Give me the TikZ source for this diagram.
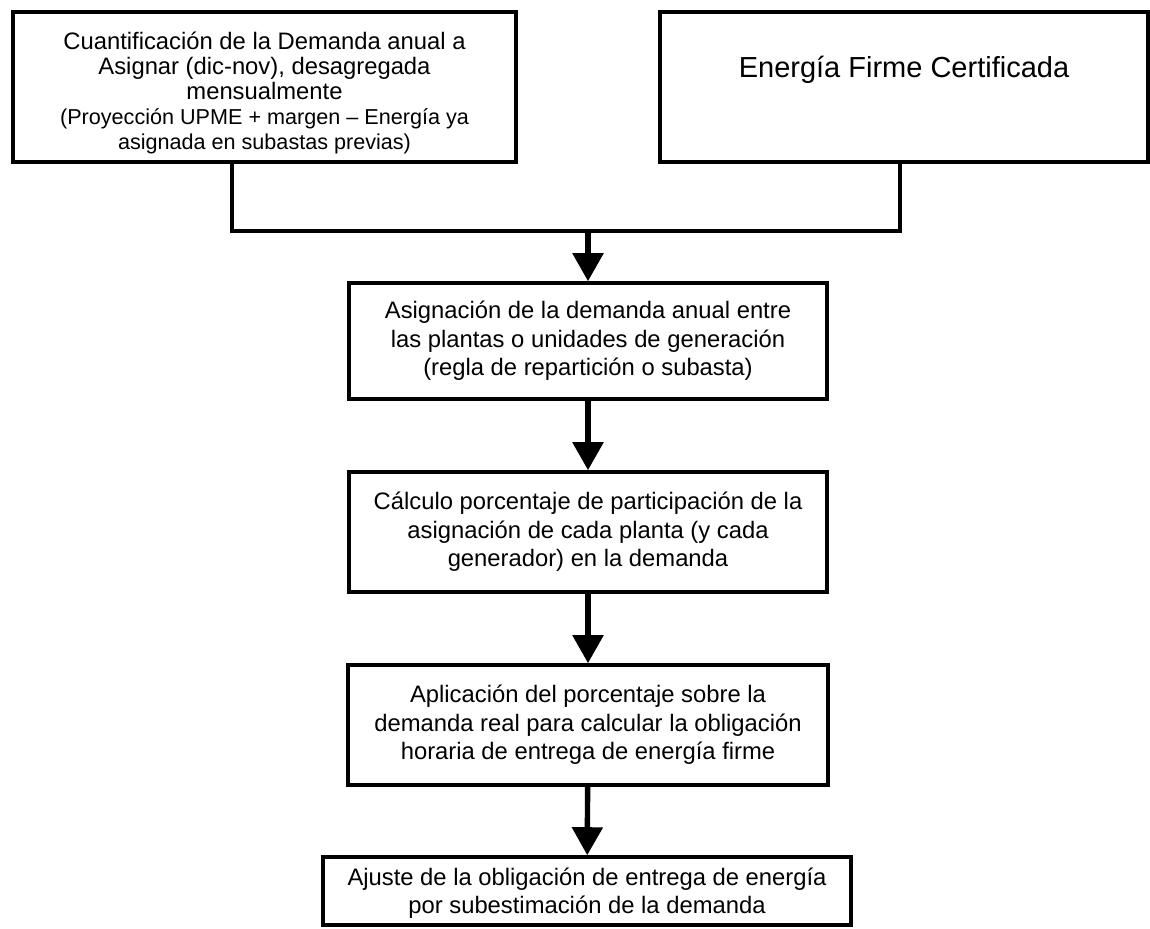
\documentclass[tikz,border=0pt]{standalone}
\usepackage{fontspec}
\setmainfont{Liberation Sans}
\usetikzlibrary{arrows.meta, calc, positioning}
\newcommand{\chico}{\fontsize{10.8}{11}\selectfont}
\tikzset{
  caja/.style={draw, line width=1.8pt, inner sep=0pt},
  texto/.style={align=center, font=\fontsize{11.9}{14.25}\selectfont},
  linea/.style={line width=2.3pt},
  flecha/.style={line width=2.7pt, -{Triangle[length=14pt, width=15pt]}}
}

\begin{document}
\begin{tikzpicture}[x=0.5pt, y=-0.5pt]
  \useasboundingbox (0,0) rectangle (1150,928);

  % Entradas: demanda a asignar y energia firme
  \node[texto, font=\fontsize{11.9}{12.6}\selectfont] (demandatxt) at (264.5,93)
    {Cuantificación de la Demanda anual a\\Asignar (dic-nov), desagregada\\mensualmente\\
     \chico (Proyección UPME + margen -- Energía ya\\\chico asignada en subastas previas)};
  \node[caja, minimum width=251.5pt, minimum height=75pt] (demanda) at (264.5,87) {};

  \node[texto, font=\fontsize{14.5}{17}\selectfont] (firmetxt) at (904,70) {Energía Firme Certificada};
  \node[caja, minimum width=244pt, minimum height=75pt] (firme) at (904,87) {};

  % Pasos del proceso
  \node[caja, texto, minimum width=239pt, minimum height=58pt] (asignacion) at (588,341)
    {Asignación de la demanda anual entre\\las plantas o unidades de generación\\(regla de repartición o subasta)};
  \node[caja, texto, minimum width=239pt, minimum height=60pt] (calculo) at (588,532)
    {Cálculo porcentaje de participación de la\\asignación de cada planta (y cada\\generador) en la demanda};
  \node[caja, texto, minimum width=240pt, minimum height=60pt] (aplicacion) at (588,725)
    {Aplicación del porcentaje sobre la\\demanda real para calcular la obligación\\horaria de entrega de energía firme};

  \node[texto, font=\fontsize{11.9}{14}\selectfont] (ajustetxt) at (587,893)
    {Ajuste de la obligación de entrega de energía\\por subestimación de la demanda};
  \node[caja, minimum width=264pt, minimum height=34pt] (ajuste) at (587,891) {};

  % Conectores
  \coordinate (juntaL) at (232,231);
  \coordinate (juntaR) at (900,231);
  \draw[linea] (demanda.south -| juntaL) -- (juntaL) -- (juntaR) -- (firme.south -| juntaR);
  \draw[flecha] (asignacion.north |- juntaL) -- (asignacion.north);
  \draw[flecha] (asignacion) -- (calculo);
  \draw[flecha] (calculo) -- (aplicacion);
  \draw[flecha] (aplicacion) -- (ajuste);
\end{tikzpicture}
\end{document}
